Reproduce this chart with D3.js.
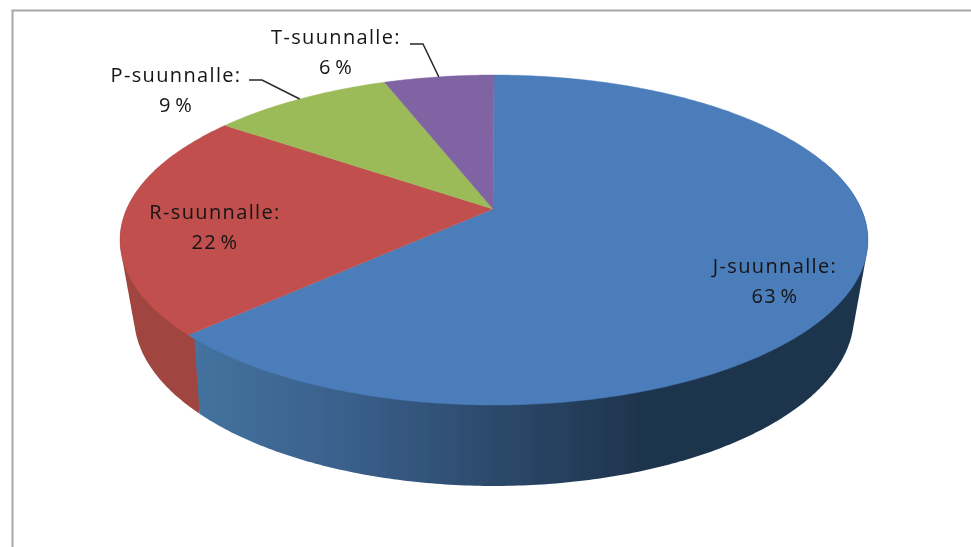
<!DOCTYPE html>
<html><head><meta charset="utf-8">
<script src="https://cdn.jsdelivr.net/npm/d3@7/dist/d3.min.js"></script>
<style>html,body{margin:0;padding:0;background:#fff;overflow:hidden}svg{display:block}
text{font-family:"Open Sans",sans-serif;font-size:20px;letter-spacing:1.35px;word-spacing:-3px;fill:#141414;text-anchor:middle}</style>
</head><body><script>
const categories = ["J-suunnalle:", "R-suunnalle:", "P-suunnalle:", "T-suunnalle:"];
const values = [62.9, 22.0, 9.4, 5.7];
const percentLabels = ["63 %", "22 %", "9 %", "6 %"];
const colors = ["#4c7dba", "#c0504d", "#9bbb59", "#8064a2"];
const labelPos = [[775,273,303],[215,219,249],[176,82,112],[336,44,74]];

const W=971,H=547;
const svg=d3.select("body").append("svg").attr("width",W).attr("height",H);
const defs=svg.append("defs");
defs.append("filter").attr("id","soft").attr("x","-5%").attr("y","-5%").attr("width","110%").attr("height","110%")
  .append("feGaussianBlur").attr("stdDeviation",0.6);
const root=svg.append("g").attr("filter","url(#soft)");

// chart frame
root.append("path").attr("d",d3.line()([[12.5,H+5],[12.5,10.5],[W+5,10.5]]))
  .attr("fill","none").attr("stroke","#a8a8a8").attr("stroke-width",2);

// perspective projection of the pie disc
const k=0.188;
const cx=494;
const project=(c,a,s)=>ang=>{const u=Math.sin(ang),v=Math.cos(ang),w=1+k*v;return [cx+s*u/w,c-a*v/w];};
const topRim=project(209,159.2,367.3), botRim=project(284,164,353.6);
const pie=d3.pie().sort(null).value(d=>d);
const arcs=pie(values);
const line=d3.line();
const sample=(a0,a1,fn)=>{const n=Math.max(4,Math.ceil(Math.abs(a1-a0)*90));return d3.range(n+1).map(i=>fn(a0+(a1-a0)*i/n));};

// walls: hull of the upper and lower rim over the front-facing stretch of each slice
const startWall=Math.PI*0.4, endWall=Math.PI*1.62;
const grad=defs.append("linearGradient").attr("id","blueWall").attr("gradientUnits","userSpaceOnUse")
  .attr("x1",190).attr("x2",640).attr("y1",0).attr("y2",0);
[[0,"#44739f"],[0.35,"#3a5f8b"],[0.7,"#2b4869"],[1,"#1f344e"]].forEach(s=>grad.append("stop").attr("offset",s[0]).attr("stop-color",s[1]));
const wallFill=["url(#blueWall)","#a0453f"];
arcs.slice(0,2).forEach((d,i)=>{
  const a0=Math.max(d.startAngle,startWall), a1=Math.min(d.endAngle,endWall);
  if(a1<=a0) return;
  const hull=d3.polygonHull(sample(a0,a1,topRim).concat(sample(a1,a0,botRim)));
  root.append("path").attr("d",line(hull)+"Z").attr("fill",wallFill[i]);
});

// top faces
arcs.forEach((d,i)=>{
  const apex=[cx-1,209];
  root.append("path").attr("d",line([apex].concat(sample(d.startAngle,d.endAngle,topRim)))+"Z")
    .attr("fill",colors[i]).attr("stroke",colors[i]).attr("stroke-width",0.4);
});

// leader lines
const leader=[null,null,[249,262,80],[410,423,44]];
arcs.forEach((d,i)=>{
  if(!leader[i]) return;
  const end=topRim((d.startAngle+d.endAngle)/2);
  root.append("path").attr("d",line([[leader[i][0],leader[i][2]],[leader[i][1],leader[i][2]],end]))
    .attr("fill","none").attr("stroke","#2a2a2a").attr("stroke-width",1.5);
});

// labels
categories.forEach((c,i)=>{
  const p=labelPos[i];
  root.append("text").attr("x",p[0]).attr("y",p[1]).text(c);
  root.append("text").attr("x",p[0]).attr("y",p[2]).text(percentLabels[i]);
});
</script></body></html>
